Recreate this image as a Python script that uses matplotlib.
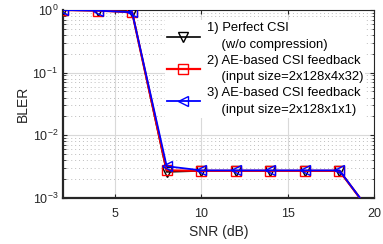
import matplotlib.pyplot as plt
from matplotlib.ticker import LogLocator, NullFormatter

snr = [2, 4, 6, 8, 10, 12, 14, 16, 18, 20]
bler_perfect = [1.0, 0.98, 0.93, 2.6e-3, 2.7e-3, 2.7e-3, 2.7e-3, 2.7e-3, 2.7e-3, 5e-4]
bler_ae_4x32 = [1.0, 0.98, 0.92, 2.75e-3, 2.7e-3, 2.7e-3, 2.7e-3, 2.7e-3, 2.7e-3, 5e-4]
bler_ae_1x1 = [1.0, 0.98, 0.92, 3.2e-3, 2.75e-3, 2.75e-3, 2.75e-3, 2.75e-3, 2.75e-3, 5e-4]

labels = ["1) Perfect CSI\n    (w/o compression)",
          "2) AE-based CSI feedback\n    (input size=2x128x4x32)",
          "3) AE-based CSI feedback\n    (input size=2x128x1x1)"]

plt.rcParams['font.family'] = ['Liberation Sans', 'DejaVu Sans']

fig = plt.figure(figsize=(3.83, 2.44), dpi=100)
ax = fig.add_axes([0.1645, 0.189, 0.812, 0.770])

ax.plot(snr, bler_perfect, color='black', lw=1.2, marker='v', ms=6.5,
        mfc='none', mec='black', label=labels[0], zorder=3)
ax.plot(snr, bler_ae_4x32, color='red', lw=1.6, marker='s', ms=6.5,
        mfc='none', mec='red', label=labels[1], zorder=4)
ax.plot(snr, bler_ae_1x1, color='blue', lw=1.3, marker='<', ms=6.5,
        mfc='none', mec='blue', label=labels[2], zorder=5)

ax.set_yscale('log')
ax.set_xlim(2, 20)
ax.set_ylim(1e-3, 1)
ax.set_xticks([5, 10, 15, 20])
ax.yaxis.set_major_locator(LogLocator(base=10, numticks=10))
ax.yaxis.set_minor_locator(LogLocator(base=10, subs=range(2, 10), numticks=10))
ax.yaxis.set_minor_formatter(NullFormatter())

ax.grid(which='major', color='#d9d9d9', linestyle='-', linewidth=0.8)
ax.grid(which='minor', axis='y', color='#bdbdbd', linestyle=(0, (1, 3)), linewidth=0.7)
ax.set_axisbelow(True)

for s in ax.spines.values():
    s.set_color('#262626')
    s.set_linewidth(0.8)
ax.spines['left'].set_linewidth(1.6)
ax.spines['bottom'].set_linewidth(1.6)

ax.tick_params(which='both', direction='in', top=True, right=True,
               colors='#262626', labelsize=9)
ax.tick_params(which='major', length=3)
ax.tick_params(which='minor', length=1.8)
ax.tick_params(axis='x', which='major', pad=7)

ax.set_xlabel('SNR (dB)', fontsize=10, color='#262626', labelpad=4)
ax.set_ylabel('BLER', fontsize=10, color='#262626', labelpad=2)

leg = ax.legend(loc='upper right', bbox_to_anchor=(0.972, 0.945), fontsize=9.4,
                frameon=True, fancybox=False, edgecolor='none',
                facecolor='white', framealpha=1.0, handlelength=2.5,
                handletextpad=0.55, labelspacing=0.25, borderpad=0.15,
                borderaxespad=0.0)
for t in leg.get_texts():
    t.set_linespacing(1.55)
leg.set_zorder(10)

fig.savefig('out.png', dpi=100)
